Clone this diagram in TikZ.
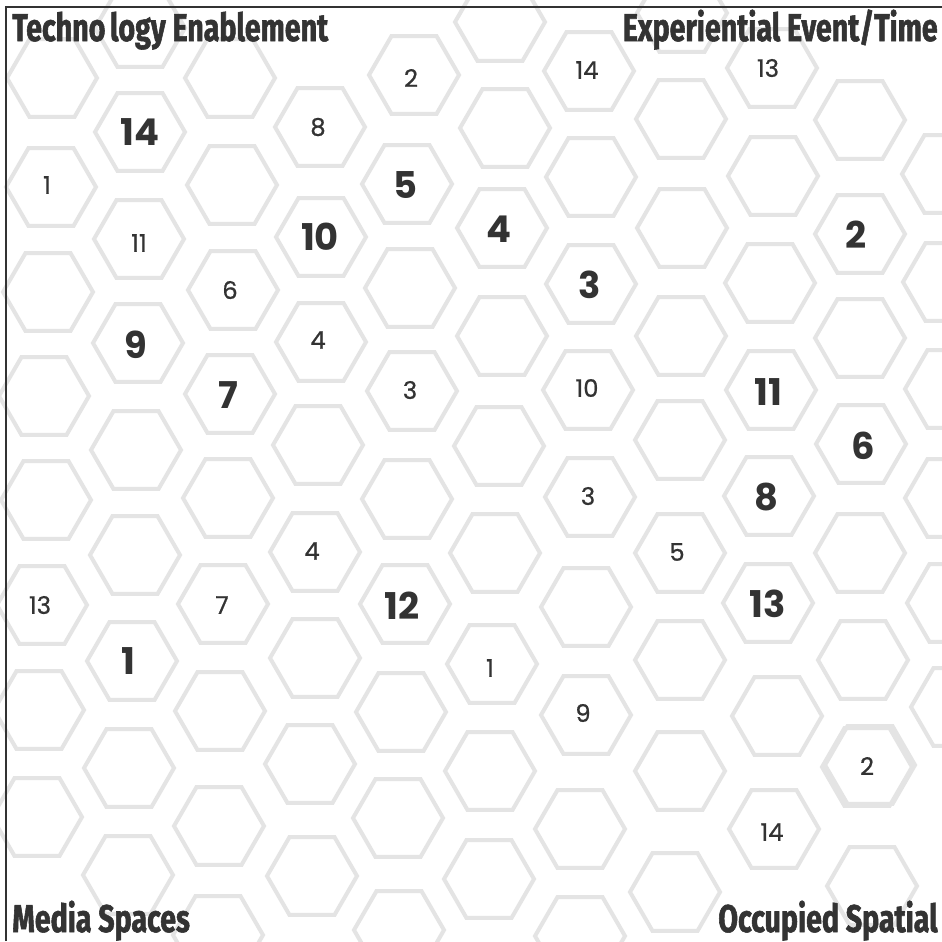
\documentclass[tikz,border=0pt]{standalone}
\usepackage{fontspec}
\usepackage{tikz}
\usetikzlibrary{shapes.geometric}
\setmainfont{Poppins}
\newfontfamily\smallnumfont[FakeBold=0.7]{Poppins}
\newfontfamily\cornerfont[FakeStretch=0.74, BoldFeatures={FakeBold=1.4}]{Fira Sans}
\definecolor{hexgray}{HTML}{E4E4E4}
\definecolor{inkgray}{HTML}{333333}

\begin{document}
\begin{tikzpicture}[
  x=0.02cm, y=-0.02cm,
  hexcell/.style={draw=hexgray, line width=0.08cm, regular polygon, regular polygon sides=6,
    minimum size=1.8cm, inner sep=0pt, outer sep=0pt},
  smallnum/.style={text=inkgray, font=\smallnumfont\fontsize{13.8}{14}\selectfont, inner sep=0pt},
  bignum/.style={text=inkgray, font=\bfseries\fontsize{21}{22}\selectfont, inner sep=0pt},
  cornerlabel/.style={text=inkgray, font=\cornerfont\bfseries\fontsize{22}{24}\selectfont, inner sep=0pt},
  frameline/.style={draw=inkgray, line width=0.04cm}
]
  \useasboundingbox[fill=white] (0,0) rectangle (942,941);
  \clip (0,0) rectangle (942,941);

  % hexagon field, column by column
  \foreach \cx/\cy [count=\k] in {
      52/78, 51/187, 48/292, 44/396, 46/500, 42/605, 39/710, 37/817,
      140/28, 140/132, 139/239, 138/343, 136/450, 135/555, 132/661, 129/768, 128/875,
      230/78, 232/185, 233/290, 230/394, 228/498, 223/604, 220/711, 219/826, 218/935,
      320/127, 321/237, 321/342, 318/445, 315/552, 315/658, 310/764, 312/876,
      414/75, 407/184, 410/288, 412/391, 407/499, 405/604, 401/712, 398/818, 399/930,
      500/22, 505/128, 502/228, 502/336, 499/446, 495/553, 492/664, 490/771, 489/879,
      589/71, 591/177, 591/284, 588/390, 590/497, 586/607, 586/715, 580/829, 580/936,
      682/13, 681/119, 682/228, 681/336, 680/440, 680/553, 680/660, 680/771, 675/892,
      772/68, 773/176, 770/283, 771/390, 769/496, 768/603, 777/716, 774/829,
      860/120, 860/234, 860/338, 861/444, 860/553, 863/660, 867/767, 872/886,
      947/174, 948/282, 950/389, 950/498, 952/603, 956/707}
    \node[hexcell] (hex\k) at (\cx,\cy) {};
  \node[hexcell] (hexdup) at (870,765) {};

  % frame
  \draw[frameline] (6,941) -- (6,7) -- (942,7);

  % small ranks
  \node[smallnum] (s2a) at (411,78) {2};
  \node[smallnum] (s14a) at (587,70) {14};
  \node[smallnum] (s13a) at (768,68) {13};
  \node[smallnum] (s8) at (318,127) {8};
  \node[smallnum] (s1a) at (47,185) {1};
  \node[smallnum] (s11) at (139,243) {11};
  \node[smallnum] (s6) at (230,290) {6};
  \node[smallnum] (s4a) at (318,340) {4};
  \node[smallnum] (s3a) at (410,390) {3};
  \node[smallnum] (s10) at (587,388) {10};
  \node[smallnum] (s3b) at (588,496) {3};
  \node[smallnum] (s4b) at (312,551) {4};
  \node[smallnum] (s5) at (677,552) {5};
  \node[smallnum] (s13b) at (40,605) {13};
  \node[smallnum] (s7) at (222,605) {7};
  \node[smallnum] (s1b) at (490,668) {1};
  \node[smallnum] (s9) at (583,713) {9};
  \node[smallnum] (s2b) at (867,766) {2};
  \node[smallnum] (s14b) at (772,832) {14};

  % large ranks
  \node[bignum] (b14) at (140,132) {14};
  \node[bignum] (b5) at (405,185) {5};
  \node[bignum] (b10) at (320,237) {10};
  \node[bignum] (b4) at (499,229) {4};
  \node[bignum] (b2) at (856,235) {2};
  \node[bignum] (b3) at (590,285) {3};
  \node[bignum] (b9) at (136,345) {9};
  \node[bignum] (b7) at (228,395) {7};
  \node[bignum] (b11) at (768,392) {11};
  \node[bignum] (b6) at (863,446) {6};
  \node[bignum] (b8) at (766,497) {8};
  \node[bignum] (b13) at (768,604) {13};
  \node[bignum] (b12) at (402,606) {12};
  \node[bignum] (b1) at (128,661) {1};

  % corners
  \node[cornerlabel, anchor=base west] (techen) at (12,41) {Techno\hspace{0.12em}logy Enablement};
  \node[cornerlabel, anchor=base east] (experi) at (938,41) {Experiential Event/Time};
  \node[cornerlabel, anchor=base west] (media) at (12,932) {Media Spaces};
  \node[cornerlabel, anchor=base east] (occup) at (938,932) {Occupied Spatial};
\end{tikzpicture}
\end{document}
